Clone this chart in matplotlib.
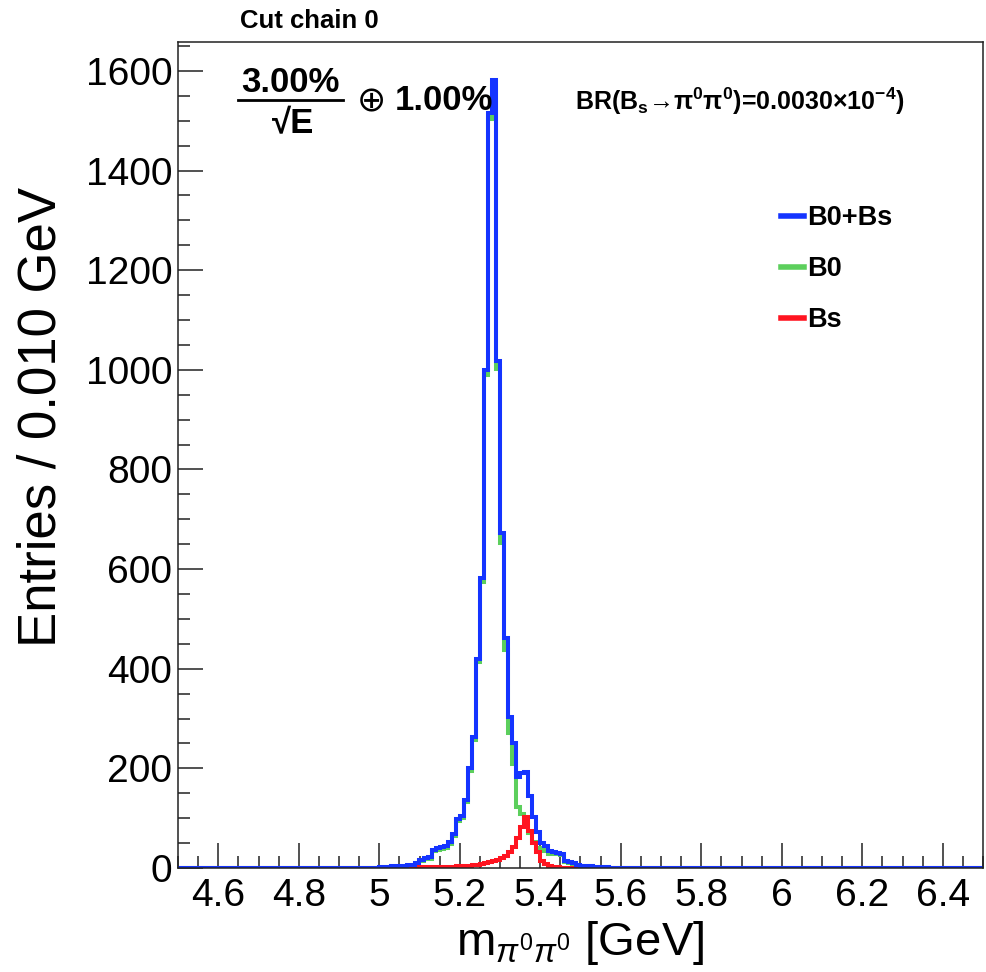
import numpy as np
import matplotlib
matplotlib.use("Agg")
import matplotlib.pyplot as plt
from matplotlib.lines import Line2D
from matplotlib.ticker import MultipleLocator, FuncFormatter

plt.rcParams['font.family'] = ['Liberation Sans', 'DejaVu Sans']
plt.rcParams['mathtext.fontset'] = 'custom'
plt.rcParams['mathtext.rm'] = 'Liberation Sans'
plt.rcParams['mathtext.it'] = 'Liberation Sans:italic'
plt.rcParams['mathtext.bf'] = 'Liberation Sans:bold'

# ---------------- data (bins of 0.010 GeV, listed from 5.00 GeV) ----------------
x_min, x_max, n_bins = 4.5, 6.5, 200
first_bin_lo = 5.00

total_vals = [2, 3, 3, 4, 4, 5, 5, 6, 7, 10,
              16, 21, 22, 37, 40, 42, 44, 52, 68, 98,
              105, 137, 200, 262, 420, 583, 1000, 1515, 1582, 1018,
              672, 462, 303, 250, 182, 190, 192, 145, 102, 72,
              50, 44, 34, 32, 30, 28, 14, 12, 10, 6,
              5, 4, 4, 3, 3, 2, 2, 1, 1, 1,
              1, 1, 1, 1, 1, 1]
b0_vals = [2, 3, 2, 2, 2, 3, 3, 4, 5, 8,
           14, 18, 19, 34, 37, 39, 41, 49, 65, 94,
           101, 132, 195, 256, 413, 575, 990, 1503, 1568, 1002,
           652, 437, 271, 208, 122, 108, 89, 70, 52, 40,
           35, 36, 29, 29, 28, 27, 12, 10, 9, 5,
           5, 4, 4, 3, 3, 2, 2, 1, 1, 1,
           1, 1, 1, 1, 1, 1]
bs_vals = [0, 0, 1, 2, 2, 2, 2, 2, 2, 2,
           2, 3, 3, 3, 3, 3, 3, 3, 3, 4,
           4, 5, 5, 6, 7, 8, 10, 12, 14, 16,
           20, 25, 32, 42, 60, 82, 103, 75, 50, 32,
           15, 8, 5, 3, 2, 1, 0, 0, 0, 0,
           0, 0, 0, 0, 0, 0, 0, 0, 0, 0,
           0, 0, 0, 0, 0, 0]

series_labels = ["B0+Bs", "B0", "Bs"]
x_tick_vals = [4.6, 4.8, 5.0, 5.2, 5.4, 5.6, 5.8, 6.0, 6.2, 6.4]
y_tick_vals = [0, 200, 400, 600, 800, 1000, 1200, 1400, 1600]

edges = np.linspace(x_min, x_max, n_bins + 1)
start = int(round((first_bin_lo - x_min) / 0.01))


def full(vals):
    h = np.zeros(n_bins)
    h[start:start + len(vals)] = vals
    return h


h_tot, h_b0, h_bs = full(total_vals), full(b0_vals), full(bs_vals)

# ---------------- figure ----------------
W, H = 987, 972
fig = plt.figure(figsize=(W / 100, H / 100), dpi=100)
ax = fig.add_axes([178 / W, 1 - 868 / H, (983 - 178) / W, (868 - 42) / H])

c_blue, c_green, c_red = '#1434ff', '#5ccf5c', '#ff1420'
lw = 2.9
ax.stairs(h_b0, edges, color=c_green, lw=lw, zorder=2.0)
ax.stairs(h_bs, edges, color=c_red, lw=lw, zorder=2.1)
ax.stairs(h_tot, edges, color=c_blue, lw=lw, zorder=2.2)

ax.set_xlim(x_min, x_max)
ax.set_ylim(0, 1658)
ax.set_xticks(x_tick_vals)
ax.set_yticks(y_tick_vals)
ax.xaxis.set_minor_locator(MultipleLocator(0.05))
ax.yaxis.set_minor_locator(MultipleLocator(50))
ax.xaxis.set_major_formatter(FuncFormatter(lambda v, p: f"{v:g}"))
ax.tick_params(which='both', direction='in', top=False, right=False,
               width=1.1, color='#222222')
ax.tick_params(which='major', length=18, labelsize=28)
ax.tick_params(which='minor', length=8.5)
ax.tick_params(axis='y', which='major', pad=4)
ax.tick_params(axis='x', which='major', pad=7)
for s in ax.spines.values():
    s.set_linewidth(1.1)
    s.set_color('#222222')

ax.set_xlabel(r'm$_{\pi^{0}\pi^{0}}$ [GeV]', fontsize=34, ha='center', va='center')
ax.xaxis.set_label_coords(0.5, (868 - 943) / 826)
ax.set_ylabel('Entries / 0.010 GeV', fontsize=38, ha='center', va='center',
              rotation_mode='anchor')
ax.yaxis.set_label_coords((42 - 178) / 805, (868 - 417) / 826)

# legend
handles = [Line2D([], [], color=c, lw=4) for c in (c_blue, c_green, c_red)]
leg = ax.legend(handles, series_labels, loc='upper left',
                bbox_to_anchor=(781 / W, 1 - 205 / H), bbox_transform=fig.transFigure,
                frameon=False, handlelength=0.85, handletextpad=0.1,
                labelspacing=0.93, borderpad=0, borderaxespad=0,
                prop={'weight': 'bold', 'size': 19.5})


def ftext(x, y, s, **kw):
    return ax.text(x / W, 1 - y / H, s, transform=fig.transFigure, zorder=5, **kw)


ftext(240, 21, 'Cut chain 0', fontsize=18.5, fontweight='bold', ha='left', va='center')
ftext(290, 82, '3.00%', fontsize=25, fontweight='bold', ha='center', va='center')
ax.add_line(Line2D([238 / W, 343 / W], [1 - 100 / H, 1 - 100 / H], transform=fig.transFigure,
                   color='black', lw=2.0, zorder=5))
ftext(293, 124, '√E', fontsize=25, fontweight='bold', ha='center', va='center')
ftext(371, 101, '⊕', fontsize=25, ha='center', va='center', family=['DejaVu Sans'])
ftext(395, 100, '1.00%', fontsize=25, fontweight='bold', ha='left', va='center')
ftext(575, 101, r'BR(B$_{\mathbf{s}}$→π$^{\mathbf{0}}$π$^{\mathbf{0}}$)=0.0030×10$^{\mathbf{-4}}$)',
      fontsize=18, fontweight='bold', ha='left', va='center')

fig.savefig('out.png', dpi=100)
